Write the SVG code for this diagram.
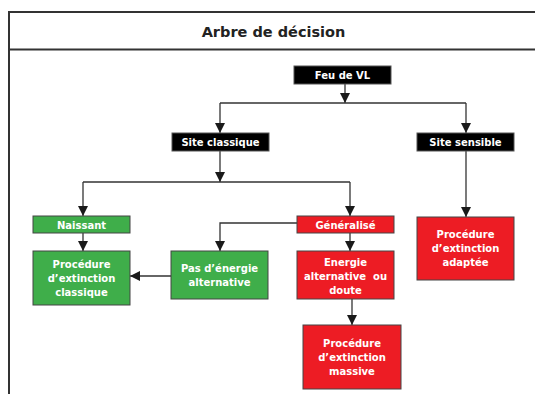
<svg xmlns="http://www.w3.org/2000/svg" width="535" height="394" viewBox="0 0 535 394">
<defs>
<marker id="ah" markerUnits="userSpaceOnUse" markerWidth="10" markerHeight="12" refX="10" refY="5" orient="auto">
<path d="M0,0 L10,5 L0,10 Z" fill="#1a1a1a"/>
</marker>
<style>
.frame{fill:none;stroke:#333;stroke-width:2}
.c{fill:none;stroke:#333;stroke-width:1.3}
.a{marker-end:url(#ah)}
.blk{fill:#000;stroke:#555;stroke-width:1}
.grn{fill:#3fae4a;stroke:#444;stroke-width:1}
.red{fill:#ed1c24;stroke:#444;stroke-width:1}
text{font-family:"DejaVu Sans",Verdana,sans-serif;font-weight:bold;fill:#fff;font-size:10px;text-anchor:middle}
.title{fill:#222;font-size:14.5px}
</style>
</defs>
<rect width="535" height="394" fill="#fff"/>
<g id="frame">
<path class="frame" d="M9,394 V12 H536"/>
<line class="frame" x1="9" y1="49.5" x2="536" y2="49.5"/>
<text class="title" x="273.5" y="37">Arbre de décision</text>
</g>
<g id="connectors">
<path class="c a" d="M345,84 V103"/>
<path class="c" d="M220,103 H466"/>
<path class="c a" d="M220,103 V133"/>
<path class="c a" d="M466,103 V133"/>
<path class="c a" d="M220,151 V182"/>
<path class="c" d="M83,182 H350"/>
<path class="c a" d="M83,182 V216"/>
<path class="c a" d="M350,182 V216"/>
<path class="c a" d="M83,233 V251"/>
<path class="c a" d="M297,223 H220 V251"/>
<path class="c a" d="M171,276 H130"/>
<path class="c a" d="M350,233 V251"/>
<path class="c a" d="M352,299 V325"/>
<path class="c a" d="M466,151 V217"/>
</g>
<g id="feu"><rect class="blk" x="294" y="66" width="97" height="18"/><text x="342.5" y="79">Feu de VL</text></g>
<g id="site-classique"><rect class="blk" x="172" y="133" width="97" height="18"/><text x="220.5" y="146">Site classique</text></g>
<g id="site-sensible"><rect class="blk" x="417" y="133" width="97" height="18"/><text x="465.5" y="146">Site sensible</text></g>
<g id="naissant"><rect class="grn" x="33" y="216" width="97" height="17"/><text x="81.5" y="228.5">Naissant</text></g>
<g id="generalise"><rect class="red" x="297" y="216" width="97" height="17"/><text x="345.5" y="228.5">Généralisé</text></g>
<g id="proc-classique"><rect class="grn" x="33" y="251" width="97" height="54"/><text x="81.5" y="268">Procédure</text><text x="81.5" y="282">d’extinction</text><text x="81.5" y="296">classique</text></g>
<g id="pas-energie"><rect class="grn" x="171" y="251" width="97" height="48"/><text x="219.5" y="272">Pas d’énergie</text><text x="219.5" y="286">alternative</text></g>
<g id="energie"><rect class="red" x="297" y="251" width="97" height="48"/><text x="345.5" y="266">Energie</text><text x="345.5" y="280" xml:space="preserve">alternative  ou</text><text x="345.5" y="294">doute</text></g>
<g id="proc-massive"><rect class="red" x="303" y="325" width="98" height="64"/><text x="352" y="347">Procédure</text><text x="352" y="361">d’extinction</text><text x="352" y="375">massive</text></g>
<g id="proc-adaptee"><rect class="red" x="417" y="217" width="97" height="63"/><text x="465.5" y="238">Procédure</text><text x="465.5" y="252">d’extinction</text><text x="465.5" y="266">adaptée</text></g>
</svg>
